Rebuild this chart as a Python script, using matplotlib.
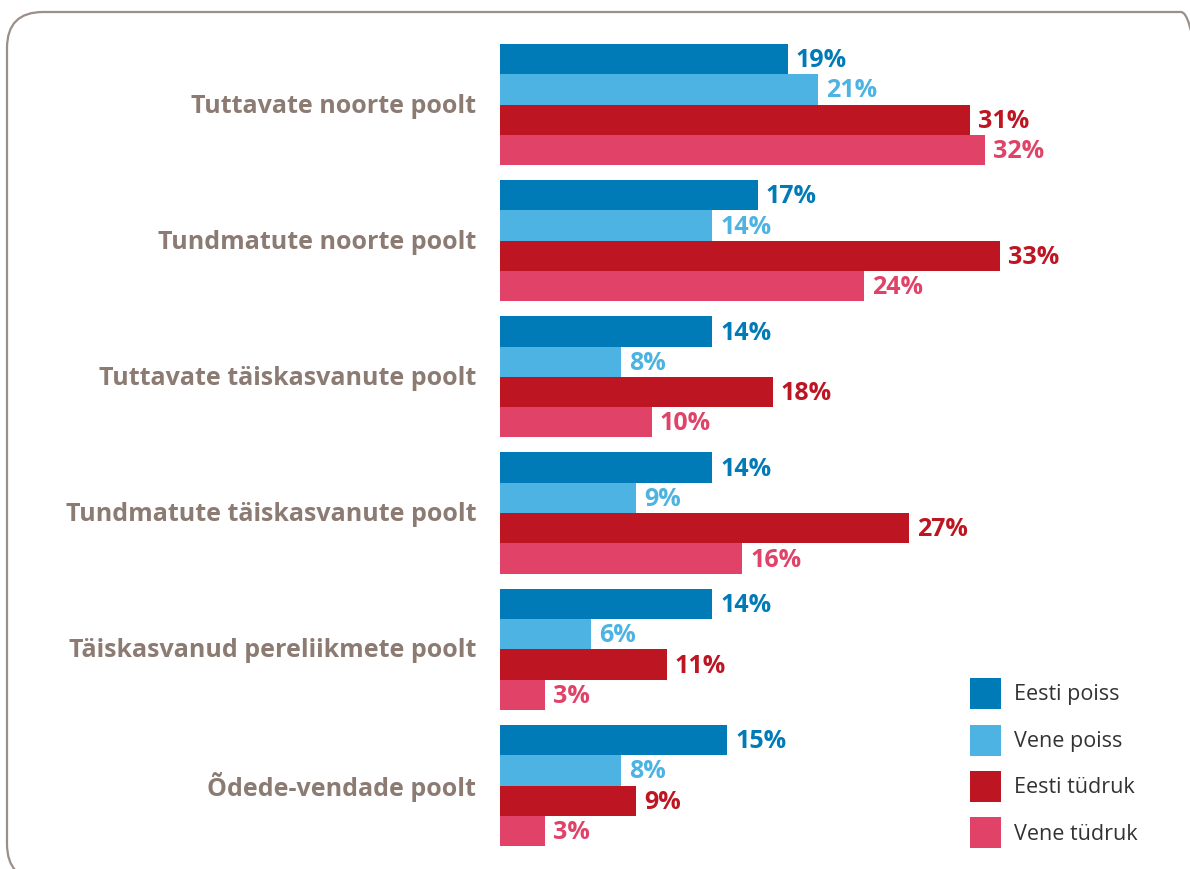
import matplotlib
matplotlib.use("Agg")
import matplotlib.pyplot as plt
from matplotlib.patches import FancyBboxPatch, Patch
from matplotlib.transforms import IdentityTransform
import numpy as np

categories = [
    "Tuttavate noorte poolt",
    "Tundmatute noorte poolt",
    "Tuttavate täiskasvanute poolt",
    "Tundmatute täiskasvanute poolt",
    "Täiskasvanud pereliikmete poolt",
    "Õdede-vendade poolt",
]
series_names = ["Eesti poiss", "Vene poiss", "Eesti tüdruk", "Vene tüdruk"]
eesti_poiss = [19, 17, 14, 14, 14, 15]
vene_poiss = [21, 14, 8, 9, 6, 8]
eesti_tudruk = [31, 33, 18, 27, 11, 9]
vene_tudruk = [32, 24, 10, 16, 3, 3]
series_values = [eesti_poiss, vene_poiss, eesti_tudruk, vene_tudruk]
colors = ["#007BB8", "#4DB3E2", "#BE1522", "#E04268"]
label_color = "#8C7B73"

W, H = 1190, 869
fig = plt.figure(figsize=(W / 100, H / 100), dpi=100)
plt.rcParams['font.family'] = ['Open Sans', 'DejaVu Sans']

# rounded border
border = FancyBboxPatch((7, H - 880), 1210, 868,
                        boxstyle="round,pad=0,rounding_size=36",
                        transform=IdentityTransform(), fill=False,
                        edgecolor="#9A8F89", linewidth=1.6)
fig.patches.append(border)

# axes: left at bar origin x=500
x0 = 500 / W
ax = fig.add_axes([x0, 0, 1 - x0, 1])
px_per_unit = 15.15
ax.set_xlim(0, (W - 500) / px_per_unit)
pitch = 136.2
c0 = 104.5
ax.set_ylim((H - c0) / pitch, -c0 / pitch)
ax.axis("off")

bh = 30.3 / pitch
y = np.arange(len(categories))
offsets = [-1.5, -0.5, 0.5, 1.5]
for vals, col, off, name in zip(series_values, colors, offsets, series_names):
    ax.barh(y + off * bh, vals, height=bh, color=col, label=name, linewidth=0)
    for yi, v in zip(y, vals):
        ax.text(v + 8 / px_per_unit, yi + off * bh + 0.012, f"{v}%", color=col,
                fontsize=18, fontweight="bold", va="center", ha="left")

for yi, cat in zip(y, categories):
    ax.text(-24 / px_per_unit, yi + 0.012, cat, color=label_color, fontsize=18,
            fontweight="bold", ha="right", va="center")

handles = [Patch(facecolor=c, edgecolor="none", label=n) for c, n in zip(colors, series_names)]
fs = 15.5
fpx = fs * 100 / 72
hh = (31 / fpx - 0.245) / 0.65
leg = fig.legend(handles=handles, loc="upper left",
                 bbox_to_anchor=(970 / W, 1 - 678 / H),
                 frameon=False, fontsize=fs, borderpad=0, borderaxespad=0,
                 handlelength=31 / fpx, handleheight=hh,
                 handletextpad=13 / fpx, labelspacing=15.5 / fpx,
                 labelcolor="#333333")

fig.savefig("out.png", dpi=100)
